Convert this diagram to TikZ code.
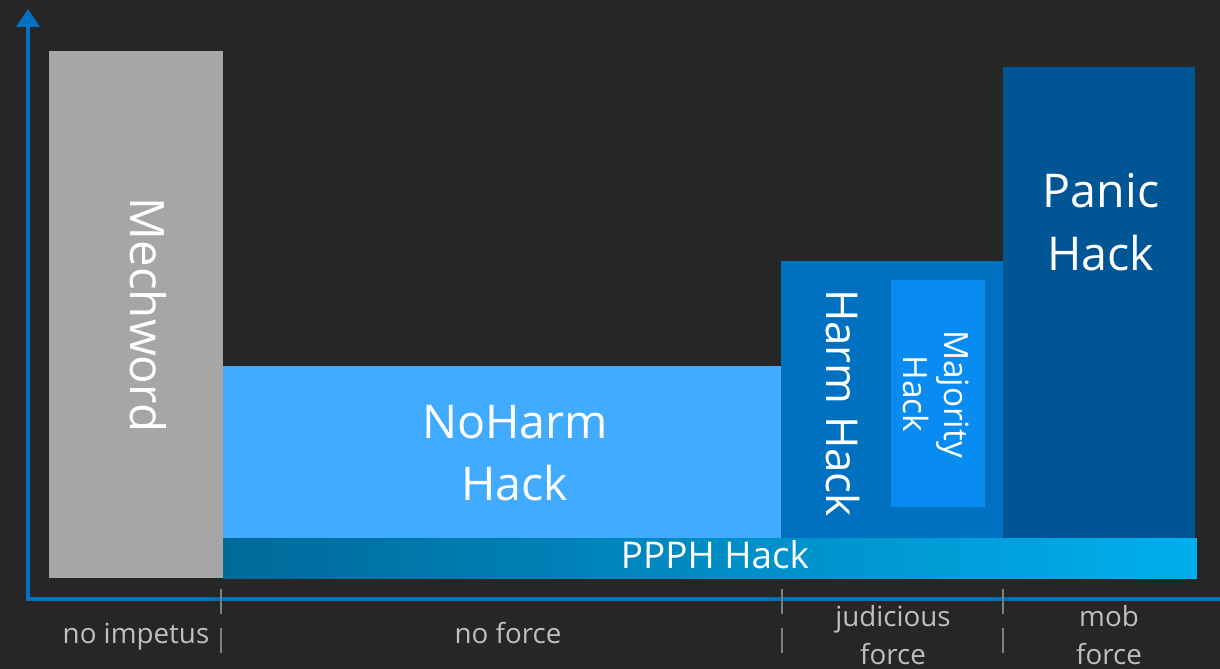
\documentclass[tikz,border=0pt]{standalone}
\usepackage{fontspec}
\setmainfont{Open Sans}
\usetikzlibrary{arrows.meta}

\definecolor{bgdark}{HTML}{262626}
\definecolor{boxgray}{HTML}{A6A6A6}
\definecolor{noharmblue}{HTML}{40ABFF}
\definecolor{harmblue}{HTML}{0070C0}
\definecolor{majorityblue}{HTML}{088CF2}
\definecolor{panicblue}{HTML}{005594}
\definecolor{ppphleft}{HTML}{00699A}
\definecolor{ppphright}{HTML}{00AFEE}
\definecolor{axisblue}{HTML}{0070C0}
\definecolor{tickgray}{HTML}{7F7F7F}
\definecolor{labelgray}{HTML}{BFBFBF}

\begin{document}
\begin{tikzpicture}[x=0.02cm, y=-0.02cm, >={Triangle[length=0.36cm,width=0.46cm]},
  every box/.style={inner sep=0pt, outer sep=0pt, draw=none},
  box text/.style={text=white, align=center, inner sep=0pt},
  axis/.style={draw=axisblue, line width=0.08cm},
  tick/.style={draw=tickgray, line width=0.05cm, dash pattern=on 0.5cm off 0.28cm},
  axis label/.style={text=labelgray, align=center, inner sep=0pt,
    font=\fontsize{15.8}{21.5}\selectfont}]

\fill [bgdark] (0,0) rectangle (1220,669);
\useasboundingbox (0,0) rectangle (1220,669);
\clip (0,0) rectangle (1220,669);

\foreach \nm/\xa/\ya/\xb/\yb/\col in {mechword/49/51/223/578/boxgray,
    noharm/223/366/781/538/noharmblue, harm/781/261/1003/538/harmblue,
    majority/891/280/985/507/majorityblue, panic/1003/67/1195/538/panicblue}
  \node [every box, fill=\col, minimum width={(\xb-\xa)*0.02cm},
    minimum height={(\yb-\ya)*0.02cm}] (\nm) at ({(\xa+\xb)/2},{(\ya+\yb)/2}) {};

\node [every box, left color=ppphleft, right color=ppphright,
  minimum width=19.48cm, minimum height=0.8cm] (ppph) at (710,558) {};

\node [box text, rotate=-90, font=\fontsize{27}{33}\selectfont] (mechword-text) at (148,315) {Mechword};
\node [box text, font=\fontsize{26.5}{35}\selectfont] (noharm-text) at (515,453) {NoHarm\\Hack};
\node [box text, font=\fontsize{21}{25}\selectfont] (ppph-text) at (715,555) {PPPH Hack};
\node [box text, rotate=-90, font=\fontsize{25}{30}\selectfont] (harm-text) at (843,403) {Harm Hack};
\node [box text, rotate=-90, font=\fontsize{19}{23}\selectfont] (majority-text) at (936,394) {Majority\\Hack};
\node [box text, font=\fontsize{26.5}{36}\selectfont] (panic-text) at (1101,222) {Panic\\Hack};

\coordinate (origin) at (28,599);
\coordinate (ytip) at (28,9);
\coordinate (xtip) at (1238,599);
\draw [axis, <->] (ytip) -- (origin) -- (xtip);

\foreach \x in {221,782,1003}
  \draw [tick] (\x,589) -- (\x,656);

\foreach \l/\x [count=\i] in {no impetus/136, no force/508}
  \node [axis label, anchor=base] (label-\i) at (\x,643) {\l};

\foreach \l/\x [count=\i from 3] in {judicious/893, mob/1109}
  \node [axis label, anchor=north] (label-\i) at (\x,605) {\l\\force};

\end{tikzpicture}
\end{document}
